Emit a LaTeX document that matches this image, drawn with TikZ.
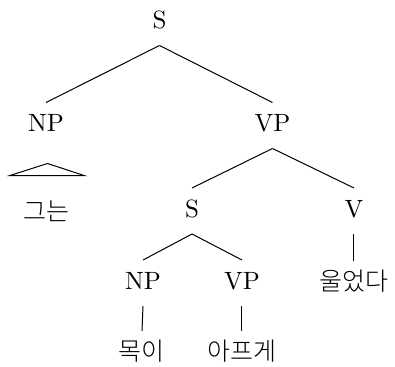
\documentclass[tikz,border=0pt]{standalone}
\usepackage{fontspec}
\newfontfamily\kr{Noto Sans CJK KR Light}
\begin{document}
\begin{tikzpicture}[x=0.4pt,y=-0.4pt,
  cat/.style={anchor=base, inner sep=3pt, text height=8.4pt, text depth=3.6pt},
  leaf/.style={cat, font=\kr},
  br/.style={line width=0.4pt}]
\useasboundingbox (0,0) rectangle (395,367);
\node[cat] (s) at (159.5,28.5) {S};
\node[cat] (np1) at (46,131.5) {NP};
\node[cat] (vp1) at (272.5,131.5) {VP};
\node[leaf] (geu) at (47,220) {그는};
\node[cat] (s2) at (192,217) {S};
\node[cat] (v) at (354,217) {V};
\node[cat] (np2) at (143,289) {NP};
\node[cat] (vp2) at (242,289) {VP};
\node[leaf] (mok) at (142,360) {목이};
\node[leaf] (apeu) at (242,360) {아프게};
\node[leaf] (ul) at (354,290) {울었다};
\draw[br] (s.south) -- (np1.north);
\draw[br] (s.south) -- (vp1.north);
\draw[br] ([shift={(1.5,15)}]np1.south) -- ([shift={(-36,27)}]np1.south) -- ([shift={(38,27)}]np1.south) -- cycle;
\draw[br] (vp1.south) -- (s2.north);
\draw[br] (vp1.south) -- (v.north);
\draw[br] (s2.south) -- (np2.north);
\draw[br] (s2.south) -- (vp2.north);
\draw[br] (np2.south) -- (mok.north);
\draw[br] (vp2.south) -- (apeu.north);
\draw[br] (v.south) -- (ul.north);
\end{tikzpicture}
\end{document}
